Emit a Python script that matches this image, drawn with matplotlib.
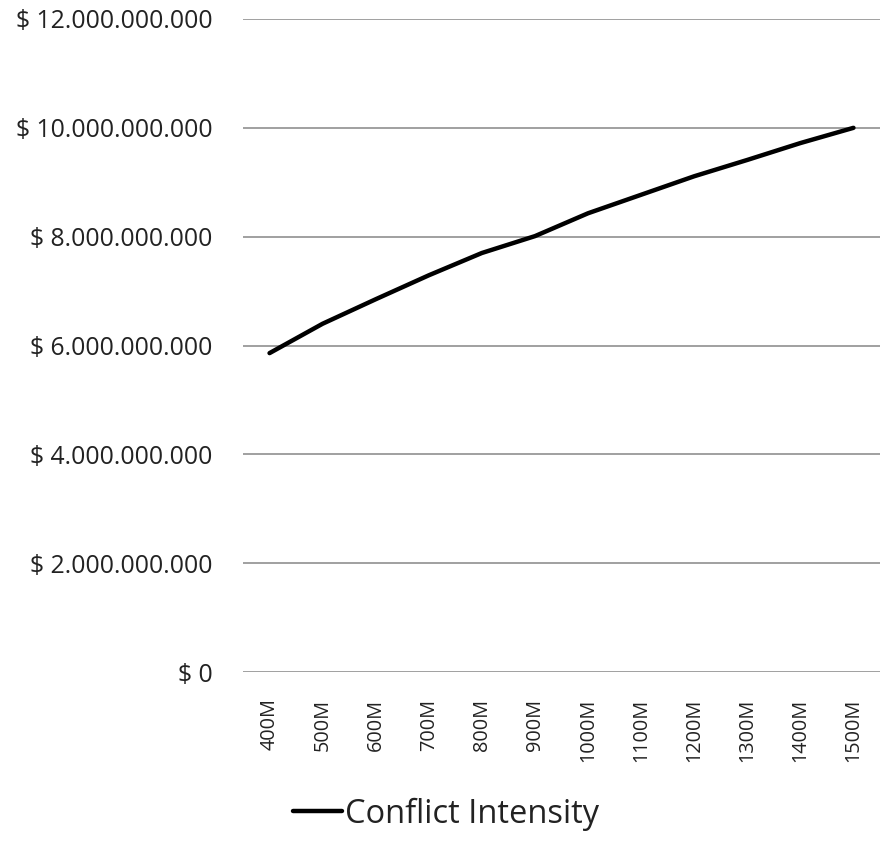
import matplotlib
matplotlib.use("Agg")
import matplotlib.pyplot as plt
from matplotlib.ticker import FuncFormatter

categories = ["400M", "500M", "600M", "700M", "800M", "900M", "1000M",
              "1100M", "1200M", "1300M", "1400M", "1500M"]
conflict_intensity = [5.86e9, 6.40e9, 6.85e9, 7.29e9, 7.70e9, 8.01e9, 8.43e9,
                      8.77e9, 9.11e9, 9.41e9, 9.72e9, 10.0e9]
y_ticks = [0, 2e9, 4e9, 6e9, 8e9, 10e9, 12e9]

plt.rcParams["font.family"] = ["Open Sans", "DejaVu Sans"]

fig = plt.figure(figsize=(8.82, 8.59), dpi=100)
ax = fig.add_axes([243 / 882, 1 - 672 / 859, (880 - 243) / 882, (672 - 19) / 859])

x = list(range(len(categories)))
line, = ax.plot(x, conflict_intensity, color="black", lw=3.2,
                solid_capstyle="round", solid_joinstyle="round",
                label="Conflict Intensity")

ax.set_xlim(-0.5, len(categories) - 0.5)
ax.set_ylim(0, 12e9)
ax.set_yticks(y_ticks)


def money(v, pos):
    s = f"{int(round(v)):,}".replace(",", ".")
    return f"$ {s}"


ax.yaxis.set_major_formatter(FuncFormatter(money))
ax.set_xticks(x)
ax.set_xticklabels(categories, rotation=90)
ax.tick_params(axis="both", length=0, colors="#222222")
ax.tick_params(axis="y", pad=22, labelsize=17.8)
ax.tick_params(axis="x", pad=19, labelsize=14.3)

ax.grid(axis="y", color="#a0a0a0", lw=1.4)
ax.set_axisbelow(True)
for s in ax.spines.values():
    s.set_visible(False)

fig.legend(handles=[line], loc="center", bbox_to_anchor=(446 / 882, 1 - 814 / 859),
           frameon=False, fontsize=23.5, handlelength=1.5, handletextpad=0.1,
           borderaxespad=0, labelcolor="#222222")

fig.savefig("out.png", dpi=100)
